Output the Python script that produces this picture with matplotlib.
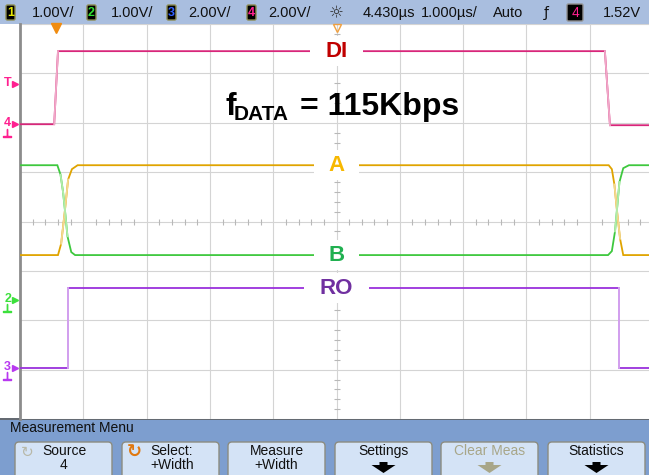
import matplotlib
matplotlib.use("Agg")
import matplotlib.pyplot as plt
import matplotlib.transforms as mtransforms
from matplotlib.patches import Rectangle, FancyBboxPatch, Polygon

W, H = 649, 475

# horizontal: 1.000 us/div, trigger at t = 0, screen centre at the delay
delay_us = 4.430
us_per_div = 1.0

# vertical values in divisions from the centre line
di_t = [-0.57, -0.03, 0.03, 8.67, 8.75, 9.43]
di_v = [1.97, 1.97, 3.45, 3.45, 1.95, 1.95]

a_t = [-0.57, 0.03, 0.08, 0.14, 0.19, 0.25, 0.34, 8.73, 8.78, 8.82, 8.86, 8.91, 8.96, 9.43]
a_v = [-0.68, -0.68, -0.45, 0.23, 0.85, 1.06, 1.14, 1.14, 1.06, 0.75, 0.23, -0.35, -0.68, -0.68]

b_t = [-0.57, 0.02, 0.07, 0.11, 0.14, 0.18, 0.24, 0.30, 8.72, 8.78, 8.83, 8.86, 8.90, 8.96, 9.05, 9.43]
b_v = [1.14, 1.14, 0.95, 0.60, 0.23, -0.30, -0.62, -0.68, -0.68, -0.60, -0.20, 0.23, 0.80, 1.08, 1.14, 1.14]

ro_t = [-0.57, 0.19, 0.19, 8.89, 8.89, 9.43]
ro_v = [-2.96, -2.96, -1.35, -1.35, -2.96, -2.96]

trace_names = ["DI", "A", "B", "RO"]
trace_t = [di_t, a_t, b_t, ro_t]
trace_v = [di_v, a_v, b_v, ro_v]
trace_colors = ["#d8267a", "#e0a400", "#3ec83e", "#9a30dc"]
edge_colors = ["#f0a8c8", "#f2d890", "#b0eca8", "#d8aaf0"]
label_colors = ["#c00000", "#f7b800", "#20b050", "#7030a0"]
label_levels = [3.45, 1.14, -0.68, -1.35]
label_gaps = [0.85, 0.72, 0.72, 1.03]

# ground / trigger reference markers on the left edge
ref_names = ["T", "4", "2", "3"]
ref_levels = [2.78, 1.97, -1.59, -2.96]
ref_colors = ["#ff2090", "#ff2090", "#3ce03c", "#b838f0"]

# status line
ch_names = ["1", "2", "3", "4"]
ch_colors = ["#e8e800", "#30e030", "#3060ff", "#ff2090"]
ch_scales = ["1.00V/", "1.00V/", "2.00V/", "2.00V/"]
delay_text = "4.430\u00b5s"
timebase_text = "1.000\u00b5s/"
trig_mode = "Auto"
trig_source = "4"
trig_level = "1.52V"

# softkeys
key_top = ["Source", "Select:", "Measure", "Settings", "Clear Meas", "Statistics"]
key_bottom = ["4", "+Width", "+Width", "", "", ""]

FONT = ["Liberation Sans", "DejaVu Sans"]

fig = plt.figure(figsize=(W / 100, H / 100), dpi=100)
fig.patch.set_facecolor("white")

# chrome layer in pixel coordinates
ui = fig.add_axes([0, 0, 1, 1], zorder=0)
ui.set_xlim(0, W)
ui.set_ylim(H, 0)
ui.axis("off")

# scope graticule: 10 x 8 divisions
ax = fig.add_axes([20 / W, 56 / H, 633 / W, 395 / H], zorder=1)
ax.set_xlim(delay_us - 5 * us_per_div, delay_us + 5 * us_per_div)
ax.set_ylim(-4, 4)
ax.set_xticks([delay_us + k * us_per_div for k in range(-5, 6)])
ax.set_yticks(range(-4, 5))
ax.tick_params(length=0, labelbottom=False, labelleft=False)
ax.grid(True, color="#d4d4d4", lw=0.8)
for s in ["top", "right", "bottom"]:
    ax.spines[s].set_visible(False)
ax.spines["left"].set_color("#8c8c8c")
ax.spines["left"].set_linewidth(2)

# minor ticks on the centre lines
mx = [delay_us + k * 0.2 * us_per_div for k in range(-25, 26) if k % 5]
ax.plot(mx, [0] * len(mx), ls="none", marker="|", ms=4, color="#b8b8b8", mew=0.8)
my = [k * 0.2 for k in range(-20, 21) if k % 5]
ax.plot([delay_us] * len(my), my, ls="none", marker="_", ms=4, color="#b8b8b8", mew=0.8)

# traces, fast edges drawn dimmer like the scope does
for t, v, c, ec in zip(trace_t, trace_v, trace_colors, edge_colors):
    ax.plot(t, v, color=c, lw=1.3, zorder=3, solid_joinstyle="miter")
    for i in range(len(t) - 1):
        dt = t[i + 1] - t[i]
        dv = abs(v[i + 1] - v[i])
        if dv > 0.05 and (dt == 0 or dv / dt > 8):
            ax.plot(t[i:i + 2], v[i:i + 2], color=ec, lw=1.3, zorder=4)

# labels in white gaps at screen centre
for name, lev, gap, lc in zip(trace_names, label_levels, label_gaps, label_colors):
    ax.add_patch(Rectangle((delay_us - gap / 2, lev - 0.3), gap, 0.6,
                           facecolor="white", edgecolor="none", zorder=5))
    ax.text(delay_us, lev, name, color=lc, fontsize=16, fontweight="bold",
            family=FONT, ha="center", va="center", zorder=6)

# trigger point and time reference markers
tr = mtransforms.blended_transform_factory(ax.transData, ax.transAxes)
ax.plot([0], [0.99], marker="v", ms=7, color="#f08c10", transform=tr, clip_on=False, zorder=7)
ax.plot([delay_us], [0.99], marker="v", ms=6, mfc="none", mec="#f0a040", mew=1,
        transform=tr, clip_on=False, zorder=7)

# reference markers on the left
tl = mtransforms.blended_transform_factory(ax.transAxes, ax.transData)
for name, lev, c in zip(ref_names, ref_levels, ref_colors):
    ax.text(-0.014, lev + 0.02, name, color=c, fontsize=9, fontweight="bold", family=FONT,
            ha="right", va="center", transform=tl, clip_on=False)
    ax.plot([-0.008], [lev], marker=">", ms=5, color=c, transform=tl, clip_on=False)
    if name != "T":
        ax.plot([-0.02], [lev - 0.17], marker=r"$\perp$", ms=6, color=c,
                transform=tl, clip_on=False)

# data-rate annotation (pixel placement, drawn above the graticule)
ax.text(225, 115, "f", fontsize=23, fontweight="bold", family=FONT, va="baseline",
        transform=ui.transData, zorder=8)
ax.text(234, 120, "DATA", fontsize=15, fontweight="bold", family=FONT, va="baseline",
        transform=ui.transData, zorder=8)
ax.text(300, 115, "= 115Kbps", fontsize=23, fontweight="bold", family=FONT, va="baseline",
        transform=ui.transData, zorder=8)

# status line
ui.add_patch(Rectangle((0, 0), W, 24, facecolor="#a9bedf", edgecolor="none"))
box_x = [6, 87, 167, 247]
txt_x = [32, 111, 188, 268]
for name, c, scale, bx, tx in zip(ch_names, ch_colors, ch_scales, box_x, txt_x):
    ui.add_patch(FancyBboxPatch((bx, 5), 9, 15, boxstyle="round,pad=0,rounding_size=1.5",
                                facecolor="black", edgecolor="#8a8a50", lw=1))
    ui.text(bx + 4.5, 13, name, color=c, fontsize=9, fontweight="bold", family=FONT,
            ha="center", va="center")
    ui.text(tx, 13, scale, color="#101010", fontsize=10.5, family=FONT, va="center")
ui.text(336, 13, "\u263c", color="#303030", fontsize=12, family="DejaVu Sans",
        ha="center", va="center")
ui.text(363, 13, delay_text, color="#101010", fontsize=10.5, family=FONT, va="center")
ui.text(421, 13, timebase_text, color="#101010", fontsize=10.5, family=FONT, va="center")
ui.text(493, 13, trig_mode, color="#101010", fontsize=10.5, family=FONT, va="center")
ui.text(546, 13, "\u0192", color="#101010", fontsize=10, family="DejaVu Sans",
        ha="center", va="center")
ui.add_patch(FancyBboxPatch((567, 4), 16, 17, boxstyle="round,pad=0,rounding_size=1.5",
                            facecolor="black", edgecolor="#909090", lw=1))
ui.text(575, 13, trig_source, color="#ff2090", fontsize=10, family=FONT,
        ha="center", va="center")
ui.text(603, 13, trig_level, color="#101010", fontsize=10.5, family=FONT, va="center")

# measurement menu
ui.add_patch(Rectangle((0, 418), W, H - 418, facecolor="#7d9ecf", edgecolor="none"))
ui.plot([0, W], [418.5, 418.5], color="#606060", lw=1.2)
ui.text(10, 428, "Measurement Menu", color="#101010", fontsize=10, family=FONT, va="center")
key_x0 = [15, 122, 228, 335, 441, 548]
key_w = 97
for i, (top, bot, kx) in enumerate(zip(key_top, key_bottom, key_x0)):
    ui.add_patch(FancyBboxPatch((kx, 442), key_w, 40, boxstyle="round,pad=0,rounding_size=4",
                                facecolor="#d4e3f6", edgecolor="#8c8c80", lw=1))
    cx = kx + key_w / 2
    fc = "#a8a688" if top == "Clear Meas" else "#101010"
    if i == 0:
        cx = kx + 49
        ui.text(kx + 12, 452, "\u21bb", color="#b8b8a8", fontsize=11, family="DejaVu Sans",
                ha="center", va="center")
    if i == 1:
        cx = kx + 50
        ui.text(kx + 12, 452, "\u21bb", color="#e07810", fontsize=13, fontweight="bold",
                family="DejaVu Sans", ha="center", va="center")
    ui.text(cx, 451, top, color=fc, fontsize=10, family=FONT, ha="center", va="center")
    if bot:
        ui.text(cx, 465, bot, color=fc, fontsize=10, family=FONT, ha="center", va="center")
    else:
        ac = "#a8a688" if top == "Clear Meas" else "black"
        ui.add_patch(Polygon([[cx - 4, 462], [cx + 4, 462], [cx + 4, 465], [cx + 12, 465],
                              [cx, 473], [cx - 12, 465], [cx - 4, 465]],
                             closed=True, facecolor=ac, edgecolor="none"))

fig.savefig("out.png", dpi=100)
